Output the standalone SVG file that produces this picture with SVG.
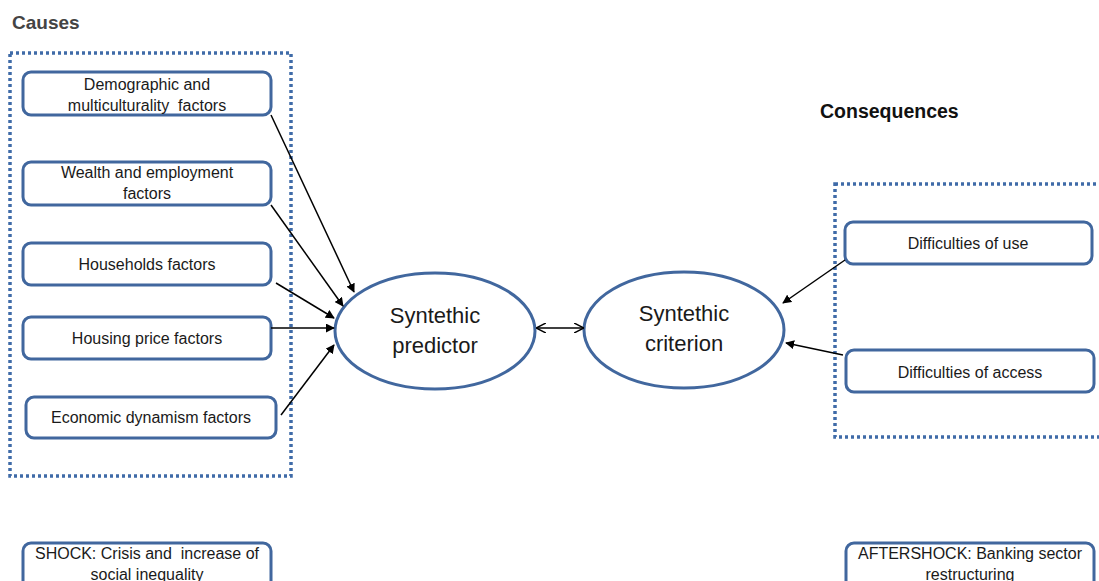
<svg xmlns="http://www.w3.org/2000/svg" width="1099" height="581" viewBox="0 0 1099 581">
<defs>
<style>
.box{fill:#fff;stroke:#41679e;stroke-width:3}
.grp{fill:none;stroke:#3f6ba8;stroke-width:3.5;stroke-dasharray:3 3}
.t{font-family:"Liberation Sans",Arial,sans-serif;font-size:16px;fill:#1a1a1a;text-anchor:middle;white-space:pre}
.e{font-family:"Liberation Sans",Arial,sans-serif;font-size:22px;fill:#1a1a1a;text-anchor:middle}
.h{font-family:"Liberation Sans",Arial,sans-serif;font-weight:bold;fill:#111}
.c{stroke:#000;stroke-width:1.5;fill:none}
</style>
<marker id="ah" viewBox="0 0 10 10" refX="9" refY="5" markerWidth="9" markerHeight="9" markerUnits="userSpaceOnUse" orient="auto-start-reverse">
<path d="M0,0 L10,5 L0,10 z" fill="#000"/>
</marker>
<marker id="oh" viewBox="0 0 10 10" refX="9" refY="5" markerWidth="10" markerHeight="10" markerUnits="userSpaceOnUse" orient="auto-start-reverse">
<path d="M0,0 L10,5 L0,10" fill="none" stroke="#000" stroke-width="1.5"/>
</marker>
</defs>
<rect width="1099" height="581" fill="#fff"/>
<text class="h" x="12" y="29" font-size="19" style="fill:#444">Causes</text>
<text class="h" x="820" y="118" font-size="19.5">Consequences</text>
<rect class="grp" x="10" y="53" width="281" height="423"/>
<rect class="grp" x="835" y="184" width="270" height="253"/>
<g id="n1"><rect class="box" x="23" y="72" width="248" height="43" rx="8"/><text class="t" x="147" y="90">Demographic and</text><text class="t" x="147" y="111">multiculturality  factors</text></g>
<g id="n2"><rect class="box" x="23" y="162" width="248" height="43" rx="8"/><text class="t" x="147" y="178">Wealth and employment</text><text class="t" x="147" y="199">factors</text></g>
<g id="n3"><rect class="box" x="23" y="243" width="248" height="42" rx="8"/><text class="t" x="147" y="270">Households factors</text></g>
<g id="n4"><rect class="box" x="23" y="317" width="248" height="42" rx="8"/><text class="t" x="147" y="344">Housing price factors</text></g>
<g id="n5"><rect class="box" x="26" y="397" width="250" height="41" rx="8"/><text class="t" x="151" y="423">Economic dynamism factors</text></g>
<g id="pred"><ellipse class="box" cx="435" cy="331" rx="100" ry="58"/><text class="e" x="435" y="323">Syntethic</text><text class="e" x="435" y="353">predictor</text></g>
<g id="crit"><ellipse class="box" cx="684" cy="330" rx="100" ry="58"/><text class="e" x="684" y="321">Syntethic</text><text class="e" x="684" y="351">criterion</text></g>
<g id="n6"><rect class="box" x="845" y="222" width="247" height="42" rx="8"/><text class="t" x="968" y="249">Difficulties of use</text></g>
<g id="n7"><rect class="box" x="846" y="350" width="248" height="42" rx="8"/><text class="t" x="970" y="378">Difficulties of access</text></g>
<g id="n8"><rect class="box" x="23" y="543" width="248" height="50" rx="8"/><text class="t" x="147" y="559">SHOCK: Crisis and  increase of</text><text class="t" x="147" y="580">social inequality</text></g>
<g id="n9"><rect class="box" x="846" y="543" width="248" height="50" rx="8"/><text class="t" x="970" y="559">AFTERSHOCK: Banking sector</text><text class="t" x="970" y="580">restructuring</text></g>
<g id="connectors">
<line class="c" x1="271" y1="115" x2="354" y2="292" marker-end="url(#ah)"/>
<line class="c" x1="271" y1="205" x2="343" y2="306" marker-end="url(#ah)"/>
<line class="c" x1="276" y1="283" x2="334" y2="318" marker-end="url(#ah)"/>
<line class="c" x1="271" y1="328" x2="334" y2="328" marker-end="url(#ah)"/>
<line class="c" x1="281" y1="415" x2="334" y2="345" marker-end="url(#ah)"/>
<line class="c" x1="537" y1="328" x2="583" y2="328" marker-start="url(#oh)" marker-end="url(#oh)"/>
<line class="c" x1="845" y1="260" x2="783" y2="303" marker-end="url(#ah)"/>
<line class="c" x1="843" y1="355" x2="786" y2="343" marker-end="url(#ah)"/>
</g>
</svg>
